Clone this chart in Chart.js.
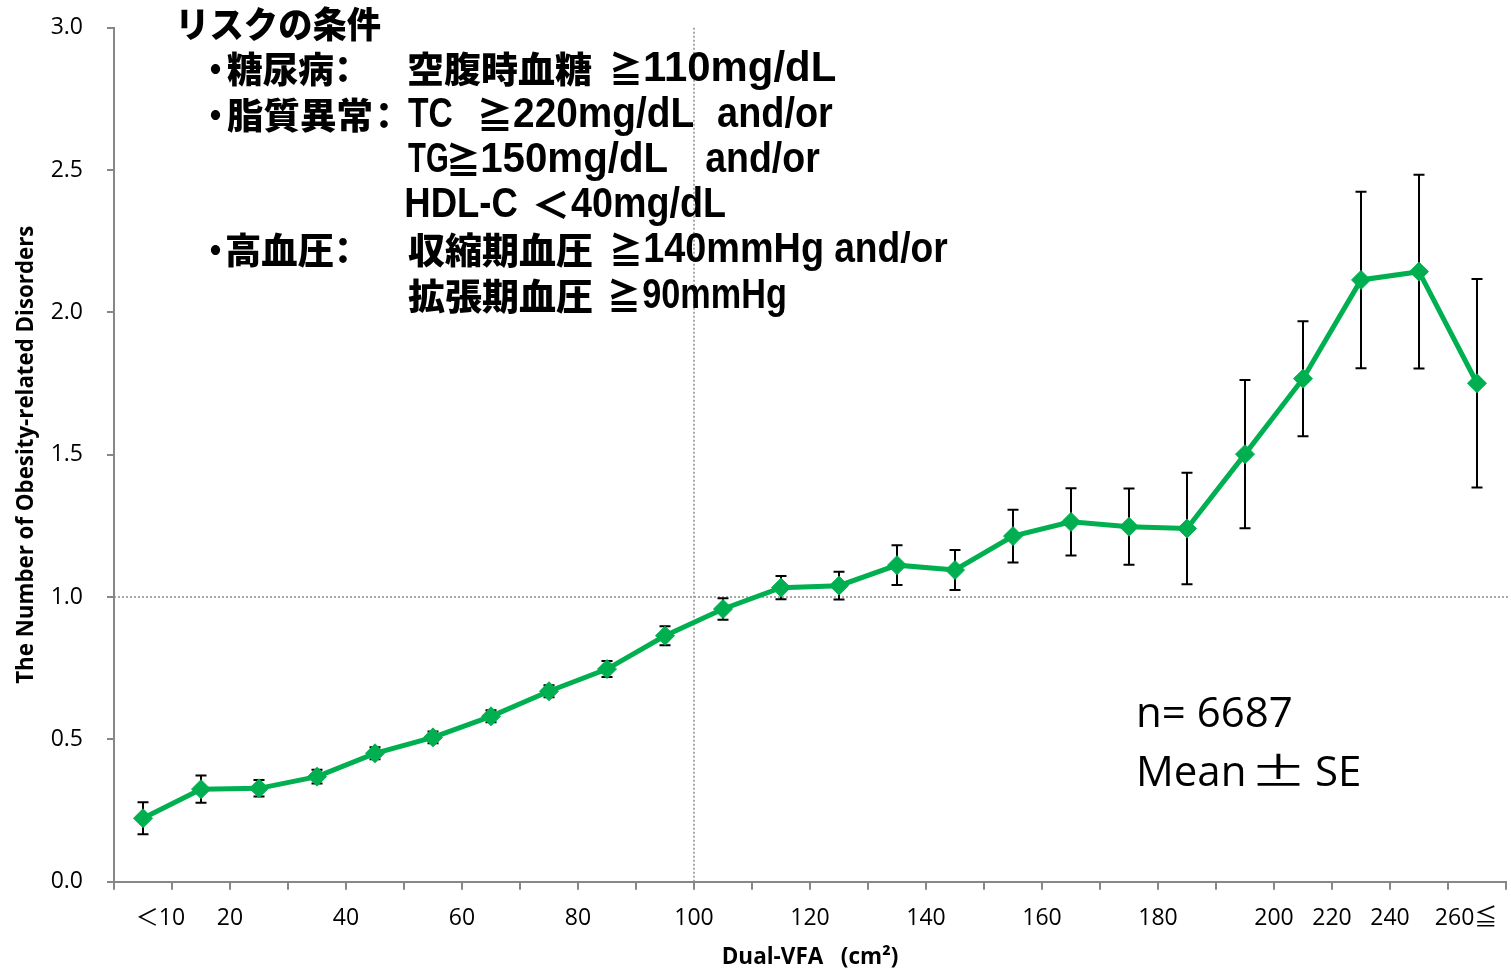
<!DOCTYPE html>
<html>
<head>
<meta charset="utf-8">
<script src="https://cdn.jsdelivr.net/npm/chart.js@4.4.1/dist/chart.umd.min.js"></script>
<style>
html,body{margin:0;padding:0;background:#ffffff;}
#wrap{width:1511px;height:971px;position:relative;}
canvas{display:block;}
</style>
</head>
<body>
<div id="wrap"><canvas id="c" width="1511" height="971"></canvas></div>
<script>
// ---- data ----
const categories = ['＜10','10-19','20-29','30-39','40-49','50-59','60-69','70-79','80-89','90-99',
  '100-109','110-119','120-129','130-139','140-149','150-159','160-169','170-179','180-189','190-199',
  '200-219','220-239','240-259','260≦'];
const means = [0.223,0.325,0.328,0.369,0.451,0.507,0.581,0.669,0.747,0.864,
  0.958,1.033,1.040,1.112,1.095,1.214,1.264,1.247,1.241,1.502,
  1.767,2.114,2.143,1.751];
const errors = [0.056,0.048,0.029,0.024,0.021,0.021,0.021,0.021,0.028,0.033,
  0.038,0.041,0.049,0.070,0.070,0.093,0.118,0.134,0.196,0.260,
  0.202,0.310,0.340,0.366];
// labels at the bin boundaries (25 boundaries for 24 bins)
const xTickLabels = ['','＜10','20','','40','','60','','80','','100','','120','','140','','160','','180','','200','220','240','260≦',''];
const yTickValues = [0,0.5,1.0,1.5,2.0,2.5,3.0];
const refX = 10;   // boundary at 100 cm2
const refY = 1.0;
const nText = 'n= 6687';
const seText = ['Mean','±','SE'];

// ---- plugins ----
const refAndErrPlugin = {
  id: 'refAndErr',
  beforeDatasetsDraw(chart) {
    const {ctx, chartArea, scales: {x, y}} = chart;
    ctx.save();
    ctx.strokeStyle = '#8c8c8c';
    ctx.lineWidth = 1.5;
    ctx.setLineDash([2, 2]);
    const rx = x.getPixelForValue(refX);
    const ry = y.getPixelForValue(refY);
    ctx.beginPath();
    ctx.moveTo(rx, chartArea.top); ctx.lineTo(rx, chartArea.bottom);
    ctx.moveTo(chartArea.left, ry); ctx.lineTo(chartArea.right + 2, ry);
    ctx.stroke();
    ctx.setLineDash([]);
    ctx.strokeStyle = '#000';
    ctx.lineWidth = 2;
    means.forEach((m, i) => {
      const px = x.getPixelForValue(i + 0.5);
      const pt = y.getPixelForValue(m + errors[i]);
      const pb = y.getPixelForValue(m - errors[i]);
      ctx.beginPath();
      ctx.moveTo(px, pt); ctx.lineTo(px, pb);
      ctx.moveTo(px - 5.5, pt); ctx.lineTo(px + 5.5, pt);
      ctx.moveTo(px - 5.5, pb); ctx.lineTo(px + 5.5, pb);
      ctx.stroke();
    });
    ctx.restore();
  }
};

const KFONT = "900 36px 'Noto Sans CJK JP', 'Noto Sans CJK SC', sans-serif";
const LFONT = "bold 43px 'Liberation Sans Narrow', 'Liberation Sans', 'Noto Sans CJK JP', sans-serif";

function fitText(ctx, text, x0, x1, y, font, baseline) {
  ctx.save();
  ctx.font = font;
  ctx.textBaseline = baseline || 'middle';
  ctx.textAlign = 'left';
  const m = ctx.measureText(text);
  const vis = m.actualBoundingBoxLeft + m.actualBoundingBoxRight;
  const s = (x1 - x0) / vis;
  ctx.translate(x0, y);
  ctx.scale(s, 1);
  ctx.fillStyle = '#000';
  ctx.fillText(text, m.actualBoundingBoxLeft, 0);
  ctx.restore();
}

const noteLines = [
  {y: 24,  segs: [['リスクの条件', 181, 381, 'k']]},
  {y: 69.5, segs: [['・', 210, 221, 'k'], ['糖尿病', 227, 333, 'k'], ['：', 339, 347, 'k'], ['空腹時血糖', 408, 592, 'k'], ['≧', 612, 640, 'k'], ['110mg/dL', 645, 835, 'l']]},
  {y: 115, segs: [['・', 210, 221, 'k'], ['脂質異常', 227, 371, 'k'], ['：', 380, 388, 'k'], ['TC', 408, 452, 'l'], ['≧', 480, 510, 'k'], ['220mg/dL', 514, 693, 'l'], ['and/or', 718, 833, 'l']]},
  {y: 160, segs: [['TG', 408, 447, 'l'], ['≧', 449, 478, 'k'], ['150mg/dL', 482, 667, 'l'], ['and/or', 706, 820, 'l']]},
  {y: 205, segs: [['HDL-C', 406, 517, 'l'], ['＜', 535, 567, 'k'], ['40mg/dL', 571, 725, 'l']]},
  {y: 250.5, segs: [['・', 210, 221, 'k'], ['高血圧', 227, 333, 'k'], ['：', 339, 347, 'k'], ['収縮期血圧', 408, 592, 'k'], ['≧', 612, 640, 'k'], ['140mmHg', 645, 822, 'l'], ['and/or', 835, 948, 'l']]},
  {y: 296, segs: [['拡張期血圧', 408, 592, 'k'], ['≧', 610, 638, 'k'], ['90mmHg', 643, 785, 'l']]}
];

const notesPlugin = {
  id: 'notes',
  afterDraw(chart) {
    const ctx = chart.ctx;
    noteLines.forEach(line => {
      line.segs.forEach(([t, x0, x1, k]) => {
        fitText(ctx, t, x0, x1, line.y, k === 'k' ? KFONT : LFONT, 'middle');
      });
    });
    ctx.save();
    ctx.fillStyle = '#000';
    ctx.textBaseline = 'alphabetic';
    ctx.textAlign = 'left';
    ctx.font = "42px 'Open Sans', sans-serif";
    ctx.fillText(nText, 1136, 727);
    ctx.fillText(seText[0], 1136, 786);
    ctx.fillText(seText[2], 1315, 786);
    ctx.restore();
    fitText(ctx, seText[1], 1257, 1300, 786, "40px 'Noto Sans CJK JP', sans-serif", 'alphabetic');
  }
};

// ---- chart ----
const AXIS = '#878787';
const TICKFONT = {family: "'Open Sans', 'Noto Sans CJK JP', sans-serif", size: 23};
function zeroPad(s) { s.paddingTop = 0; s.paddingBottom = 0; s.paddingLeft = 0; s.paddingRight = 0; }

new Chart(document.getElementById('c'), {
  type: 'line',
  data: {
    labels: categories,
    datasets: [{
      label: 'Obesity-related disorders',
      data: means.map((m, i) => ({x: i + 0.5, y: m})),
      borderColor: '#00B050',
      backgroundColor: '#00B050',
      borderWidth: 5,
      pointStyle: 'rectRot',
      pointRadius: 9.5,
      pointBorderWidth: 1,
      pointBackgroundColor: '#00B050',
      pointBorderColor: '#00B050',
      tension: 0,
      clip: false
    }]
  },
  options: {
    responsive: false,
    animation: false,
    devicePixelRatio: 1,
    layout: {autoPadding: false, padding: {top: 27.7, right: 5, bottom: 0, left: 0}},
    plugins: {legend: {display: false}, tooltip: {enabled: false}},
    scales: {
      x: {
        type: 'linear',
        min: 0, max: 24,
        afterFit(s) { s.height = 971 - 881.7; zeroPad(s); },
        afterBuildTicks(s) { s.ticks = xTickLabels.map((_, i) => ({value: i})); },
        grid: {drawOnChartArea: false, drawTicks: true, tickLength: 8, color: AXIS, lineWidth: 2},
        border: {display: true, color: AXIS, width: 2},
        ticks: {
          autoSkip: false, maxRotation: 0, minRotation: 0, padding: 15,
          color: '#000', font: TICKFONT,
          callback(v) {
            let t = xTickLabels[Math.round(v)] || '';
            if (t.startsWith('＜')) t = t + '\u3000';
            if (t.endsWith('≦')) t = '\u3000\u2007' + t;
            return t;
          }
        },
        title: {
          display: true, text: 'Dual-VFA   (cm²)', color: '#000',
          font: {family: "'Open Sans', sans-serif", size: 22.5, weight: 'bold'},
          padding: {top: 0, bottom: 0}
        }
      },
      y: {
        min: 0, max: 3,
        afterFit(s) { s.width = 114; zeroPad(s); },
        afterBuildTicks(s) { s.ticks = yTickValues.map(v => ({value: v})); },
        grid: {drawOnChartArea: false, drawTicks: true, tickLength: 7, color: AXIS, lineWidth: 2},
        border: {display: true, color: AXIS, width: 2},
        ticks: {
          padding: 24, color: '#000', font: TICKFONT,
          callback(v) { return Number(v).toFixed(1); }
        },
        title: {
          display: true, text: 'The Number of Obesity-related Disorders', color: '#000',
          font: {family: "'Open Sans', sans-serif", size: 22.3, weight: 'bold'},
          padding: {top: 13, bottom: 0}
        }
      }
    }
  },
  plugins: [refAndErrPlugin, notesPlugin]
});
</script>
</body>
</html>
